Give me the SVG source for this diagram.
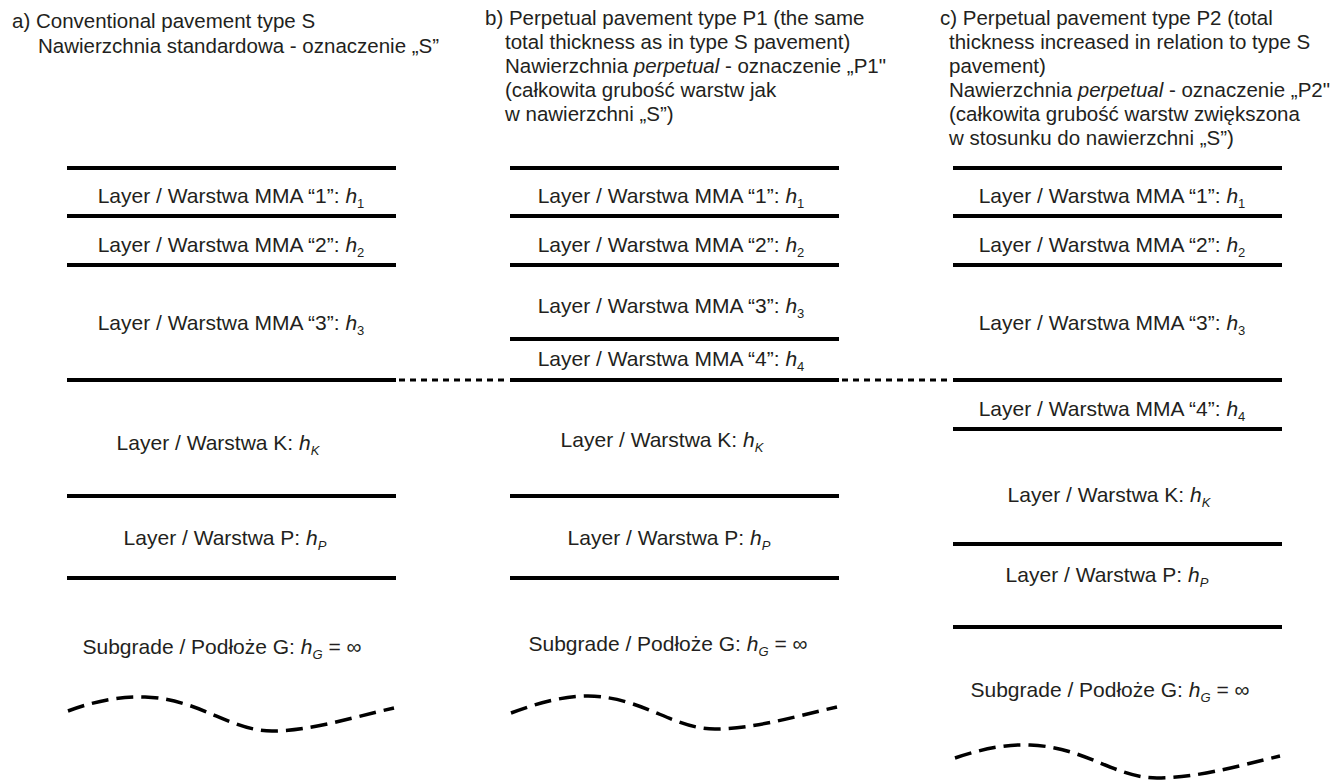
<svg xmlns="http://www.w3.org/2000/svg" width="1344" height="780" viewBox="0 0 1344 780">
<style>
text{font-family:"Liberation Sans",Arial,sans-serif;fill:#231f20}
.hd{font-size:20.5px}
.lb{font-size:21px;text-anchor:middle}
.sub{font-size:13px}
.it{font-style:italic}
.ln{stroke:#000;stroke-width:4;fill:none}
.dot{stroke:#000;stroke-width:3;stroke-dasharray:6 5;fill:none}
.wave{stroke:#000;stroke-width:3.5;stroke-dasharray:17 8;fill:none}
</style>
<rect width="1344" height="780" fill="#fff"/>
<g id="headers">
<g id="header-a">
<text class="hd" x="12" y="28">a) Conventional pavement type S</text>
<text class="hd" x="38" y="53">Nawierzchnia standardowa - oznaczenie „S”</text>
</g>
<g id="header-b">
<text class="hd" x="485" y="25">b) Perpetual pavement type P1 (the same</text>
<text class="hd" x="505" y="49">total thickness as in type S pavement)</text>
<text class="hd" x="505" y="73">Nawierzchnia <tspan class="it">perpetual</tspan> - oznaczenie „P1"</text>
<text class="hd" x="505" y="97">(całkowita grubość warstw jak</text>
<text class="hd" x="505" y="121">w nawierzchni „S”)</text>
</g>
<g id="header-c">
<text class="hd" x="940" y="25">c) Perpetual pavement type P2 (total</text>
<text class="hd" x="949" y="49">thickness increased in relation to type S</text>
<text class="hd" x="949" y="73">pavement)</text>
<text class="hd" x="949" y="97">Nawierzchnia <tspan class="it">perpetual</tspan> - oznaczenie „P2"</text>
<text class="hd" x="949" y="121">(całkowita grubość warstw zwiększona</text>
<text class="hd" x="949" y="145">w stosunku do nawierzchni „S”)</text>
</g>
</g>
<g id="connectors">
<g id="lines-a">
<line class="ln" x1="67" y1="168" x2="396" y2="168"/>
<line class="ln" x1="67" y1="216" x2="396" y2="216"/>
<line class="ln" x1="67" y1="265" x2="396" y2="265"/>
<line class="ln" x1="67" y1="380" x2="396" y2="380"/>
<line class="ln" x1="67" y1="496" x2="396" y2="496"/>
<line class="ln" x1="67" y1="578" x2="396" y2="578"/>
<path class="wave" d="M68,711 C95,701 120,696 145,697 C200,699 230,731 272,731 C310,731 350,718 394,708"/>
</g>
<g id="lines-b">
<line class="ln" x1="510" y1="168" x2="839" y2="168"/>
<line class="ln" x1="510" y1="216" x2="839" y2="216"/>
<line class="ln" x1="510" y1="265" x2="839" y2="265"/>
<line class="ln" x1="510" y1="339" x2="839" y2="339"/>
<line class="ln" x1="510" y1="380" x2="839" y2="380"/>
<line class="ln" x1="510" y1="496" x2="839" y2="496"/>
<line class="ln" x1="510" y1="578" x2="839" y2="578"/>
<path class="wave" d="M511,713 C538,703 563,696 588,696 C643,697 673,729 715,729 C753,729 793,717 837,707"/>
</g>
<g id="lines-c">
<line class="ln" x1="953" y1="168" x2="1282" y2="168"/>
<line class="ln" x1="953" y1="216" x2="1282" y2="216"/>
<line class="ln" x1="953" y1="265" x2="1282" y2="265"/>
<line class="ln" x1="953" y1="380" x2="1282" y2="380"/>
<line class="ln" x1="953" y1="429" x2="1282" y2="429"/>
<line class="ln" x1="953" y1="544" x2="1282" y2="544"/>
<line class="ln" x1="953" y1="627" x2="1282" y2="627"/>
<path class="wave" d="M955,758 C982,749 1005,744 1030,745 C1085,747 1115,778 1157,778 C1195,778 1235,767 1280,756"/>
</g>
<g id="dotted">
<line class="dot" x1="399" y1="380" x2="508" y2="380"/>
<line class="dot" x1="842" y1="380" x2="951" y2="380"/>
</g>
</g>
<g id="layers-a">
<g id="a-mma1"><text class="lb" x="231" y="203">Layer / Warstwa MMA “1”: <tspan class="it">h</tspan><tspan class="sub" dy="5">1</tspan></text></g>
<g id="a-mma2"><text class="lb" x="231" y="252">Layer / Warstwa MMA “2”: <tspan class="it">h</tspan><tspan class="sub" dy="5">2</tspan></text></g>
<g id="a-mma3"><text class="lb" x="231" y="330">Layer / Warstwa MMA “3”: <tspan class="it">h</tspan><tspan class="sub" dy="5">3</tspan></text></g>
<g id="a-k"><text class="lb" x="218" y="450">Layer / Warstwa K: <tspan class="it">h</tspan><tspan class="sub it" dy="5">K</tspan></text></g>
<g id="a-p"><text class="lb" x="225" y="545">Layer / Warstwa P: <tspan class="it">h</tspan><tspan class="sub it" dy="5">P</tspan></text></g>
<g id="a-g"><text class="lb" x="222" y="654">Subgrade / Podłoże G: <tspan class="it">h</tspan><tspan class="sub it" dy="5">G</tspan><tspan dy="-5"> = ∞</tspan></text></g>
</g>
<g id="layers-b">
<g id="b-mma1"><text class="lb" x="671" y="203">Layer / Warstwa MMA “1”: <tspan class="it">h</tspan><tspan class="sub" dy="5">1</tspan></text></g>
<g id="b-mma2"><text class="lb" x="671" y="252">Layer / Warstwa MMA “2”: <tspan class="it">h</tspan><tspan class="sub" dy="5">2</tspan></text></g>
<g id="b-mma3"><text class="lb" x="671" y="313">Layer / Warstwa MMA “3”: <tspan class="it">h</tspan><tspan class="sub" dy="5">3</tspan></text></g>
<g id="b-mma4"><text class="lb" x="671" y="366">Layer / Warstwa MMA “4”: <tspan class="it">h</tspan><tspan class="sub" dy="5">4</tspan></text></g>
<g id="b-k"><text class="lb" x="662" y="447">Layer / Warstwa K: <tspan class="it">h</tspan><tspan class="sub it" dy="5">K</tspan></text></g>
<g id="b-p"><text class="lb" x="669" y="545">Layer / Warstwa P: <tspan class="it">h</tspan><tspan class="sub it" dy="5">P</tspan></text></g>
<g id="b-g"><text class="lb" x="668" y="651">Subgrade / Podłoże G: <tspan class="it">h</tspan><tspan class="sub it" dy="5">G</tspan><tspan dy="-5"> = ∞</tspan></text></g>
</g>
<g id="layers-c">
<g id="c-mma1"><text class="lb" x="1112" y="203">Layer / Warstwa MMA “1”: <tspan class="it">h</tspan><tspan class="sub" dy="5">1</tspan></text></g>
<g id="c-mma2"><text class="lb" x="1112" y="252">Layer / Warstwa MMA “2”: <tspan class="it">h</tspan><tspan class="sub" dy="5">2</tspan></text></g>
<g id="c-mma3"><text class="lb" x="1112" y="330">Layer / Warstwa MMA “3”: <tspan class="it">h</tspan><tspan class="sub" dy="5">3</tspan></text></g>
<g id="c-mma4"><text class="lb" x="1112" y="416">Layer / Warstwa MMA “4”: <tspan class="it">h</tspan><tspan class="sub" dy="5">4</tspan></text></g>
<g id="c-k"><text class="lb" x="1109" y="502">Layer / Warstwa K: <tspan class="it">h</tspan><tspan class="sub it" dy="5">K</tspan></text></g>
<g id="c-p"><text class="lb" x="1107" y="582">Layer / Warstwa P: <tspan class="it">h</tspan><tspan class="sub it" dy="5">P</tspan></text></g>
<g id="c-g"><text class="lb" x="1110" y="697">Subgrade / Podłoże G: <tspan class="it">h</tspan><tspan class="sub it" dy="5">G</tspan><tspan dy="-5"> = ∞</tspan></text></g>
</g>
</svg>
